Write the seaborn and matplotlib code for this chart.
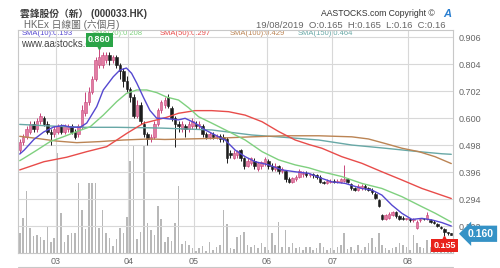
import numpy as np
import pandas as pd
import matplotlib
matplotlib.use("Agg")
import matplotlib.pyplot as plt
import matplotlib.transforms as mtransforms
from matplotlib.lines import Line2D
import seaborn as sns

# ---------------- data ----------------
start_date = "2019-02-14"
end_date = "2019-08-19"
hk_holidays = ["2019-04-05", "2019-04-19", "2019-04-22", "2019-05-01",
               "2019-05-13", "2019-06-07", "2019-07-01"]

open_ = [.48, .51, .53, .55, .58, .56, .59, .60, .58, .55,
         .54, .55, .57, .55, .56, .57, .55, .54, .57, .62,
         .66, .70, .75, .80, .80, .82, .84, .82, .83, .80,
         .78, .74, .71, .68, .61, .65, .58, .54, .52, .53,
         .58, .63, .65, .68, .64, .60, .58, .56, .57, .56,
         .57, .58, .57, .57, .54, .53, .54, .53, .535, .53,
         .52, .47, .45, .46, .48, .45, .42, .43, .44, .41,
         .42, .43, .44, .42, .41, .42, .40, .40, .37, .36,
         .37, .38, .39, .395, .385, .39, .385, .38, .36, .355,
         .36, .365, .36, .36, .365, .37, .35, .335, .33, .335,
         .345, .335, .33, .315, .29, .235, .22, .225, .235, .245,
         .23, .225, .22, .22, .215, .185, .215, .22, .22, .215,
         .21, .20, .19, .18, .17, .165]
close = [.51, .53, .56, .58, .56, .59, .61, .58, .55, .54,
         .56, .57, .55, .57, .57, .55, .53, .57, .63, .66,
         .70, .75, .82, .83, .84, .84, .82, .83, .80, .78,
         .74, .71, .68, .61, .65, .59, .54, .52, .53, .58,
         .63, .66, .67, .645, .60, .58, .57, .58, .56, .58,
         .59, .57, .58, .54, .53, .54, .53, .535, .52, .52,
         .45, .46, .47, .475, .45, .42, .44, .45, .42, .43,
         .435, .445, .42, .41, .42, .40, .41, .37, .36, .375,
         .38, .40, .395, .385, .39, .385, .38, .36, .355, .365,
         .365, .36, .365, .37, .37, .36, .335, .33, .345, .345,
         .335, .33, .32, .30, .27, .22, .235, .24, .245, .23,
         .22, .22, .22, .215, .22, .21, .22, .218, .235, .21,
         .205, .195, .185, .17, .165, .16]
high = [.52, .54, .57, .59, .59, .60, .62, .61, .59, .56,
        .57, .58, .58, .58, .58, .58, .56, .58, .65, .70,
        .72, .76, .83, .86, .85, .85, .85, .84, .84, .81,
        .79, .76, .72, .69, .67, .66, .59, .55, .54, .59,
        .64, .67, .68, .69, .645, .61, .59, .59, .58, .59,
        .60, .59, .59, .58, .55, .55, .55, .54, .54, .54,
        .53, .48, .48, .48, .485, .455, .45, .455, .45, .435,
        .44, .455, .445, .43, .43, .425, .415, .405, .38, .38,
        .385, .41, .40, .40, .395, .395, .39, .385, .365, .37,
        .37, .37, .37, .375, .425, .375, .355, .34, .35, .35,
        .35, .34, .335, .32, .295, .24, .24, .245, .25, .25,
        .235, .23, .225, .225, .225, .215, .225, .225, .245, .22,
        .215, .205, .195, .185, .17, .165]
low = [.47, .50, .52, .54, .55, .55, .58, .57, .54, .50,
       .53, .54, .54, .54, .55, .54, .52, .53, .56, .61,
       .65, .69, .74, .79, .79, .81, .80, .81, .79, .75,
       .72, .70, .66, .60, .60, .58, .53, .50, .51, .52,
       .57, .62, .64, .64, .59, .49, .55, .55, .53, .55,
       .56, .56, .56, .53, .52, .52, .52, .52, .51, .51,
       .43, .45, .445, .45, .44, .41, .415, .425, .41, .40,
       .41, .42, .41, .40, .40, .39, .395, .36, .355, .355,
       .365, .375, .38, .38, .38, .375, .37, .355, .35, .35,
       .355, .355, .355, .355, .36, .355, .33, .325, .325, .33,
       .33, .325, .315, .295, .265, .215, .215, .22, .23, .225,
       .215, .215, .215, .21, .21, .18, .21, .215, .215, .205,
       .20, .19, .18, .155, .16, .16]
volume_m = [7.4, 13, 23, 9.3, 6.4, 6.8, 6, 5, 10, 4.3,
            5.5, 37, 15, 4.3, 6.8, 7.7, 7.4, 26, 16, 9,
            26, 26, 26, 9.5, 16, 7.4, 5.8, 2.7, 5.2, 9.3,
            7.4, 13.6, 34, 40, 5.2, 8, 40, 11.4, 8.6, 6.8,
            17.5, 12.6, 4.3, 6.2, 4.7, 11.4, 25, 3.3, 4.7, 3.1,
            1.9, 1, 1.9, 2.7, 0.9, 4, 1.2, 2.5, 3, 16,
            11, 2, 1.6, 6, 6.8, 8, 3,
            2.5, 3.1, 1.9, 3.7, 2.5, 1.2, 7.4, 3.1, 11.7, 2.5,
            8.6, 2.5, 3.7, 1.9, 2.5, 1.2, 2.5, 2.5, 1.2, 1.9,
            3.7, 2.5, 1.2, 1.9, 1.2, 2.5, 3.1, 7.4, 1.5, 2.5,
            1.2, 3.1, 1.2, 2.5, 3.7, 5.5, 2.5, 7.4, 3.1, 1.9,
            1.2, 1.9, 2.5, 3.7, 3.1, 2.5, 1.2, 6.8, 3.7, 2.5,
            1.9, 5.0, 2.5, 1.9, 3.1, 1.9, 2.5, 1.5, 1.2]

sma10_day = [0, 1.3, 4.1, 6.9, 9.8, 12.6, 14.6, 17.5, 19.4, 22.3, 24.2, 27.1, 29, 30.9,
             32.4, 33.9, 35.8, 37.7, 39.7, 41.6, 46, 47.9, 50.8, 53.7, 56.6, 59.5, 62.4,
             65.3, 68.2, 72.1, 76, 79.8, 83.7, 87.5, 90.4, 94.3, 99.1, 102, 104.9, 107.8,
             110.7, 113.6, 116.5, 119.4, 122.3, 125]
sma10_val = [.465, .48, .52, .548, .567, .573, .567, .566, .582, .644, .707, .757, .782, .79,
             .77, .733, .68, .63, .60, .60, .594, .60, .582, .556, .537, .518, .48,
             .455, .436, .424, .405, .398, .392, .373, .36, .354, .335, .329, .31, .272,
             .241, .218, .222, .216, .206, .193]
sma20_day = [0, 1.3, 5, 8.8, 12.6, 16.5, 20.4, 24.2, 28.1, 30.9, 33.9, 36.8, 39.7, 42.6,
             46, 48.9, 51.8, 55.6, 60.5, 65.3, 70.2, 75, 79.8, 83.7, 87.5, 93.3, 99.1,
             104.9, 110.7, 116.5, 120.4, 125]
sma20_val = [.44, .45, .48, .512, .53, .55, .568, .612, .663, .694, .707, .707, .697, .68,
             .669, .64, .606, .582, .55, .518, .474, .443, .424, .413, .398, .38, .354,
             .335, .304, .266, .241, .208]
sma50_day = [0, 7, 13.6, 19.4, 25.2, 31, 35.8, 39.7, 42.6, 46, 50.8, 55.6, 60.5, 65.3,
             70.2, 75, 79.8, 84, 87.5, 93.3, 99.1, 104.9, 110.7, 116.5, 125]
sma50_val = [.405, .436, .453, .474, .493, .543, .581, .594, .604, .619, .629, .629, .625,
             .612, .587, .55, .518, .50, .487, .455, .43, .398, .367, .335, .297]
sma100_day = [0, 5, 10.7, 16.5, 23.2, 30, 37.7, 42, 55.6, 67.2, 76.8, 86.6, 96.2, 101,
              105.8, 110.7, 115.6, 120.3, 125]
sma100_val = [.532, .524, .514, .508, .512, .518, .522, .52, .524, .53, .534, .534, .53,
              .522, .505, .487, .474, .455, .429]
sma150_day = [0, 8.8, 18.4, 28.1, 37.7, 41.2, 55.6, 67.2, 76.8, 86.6, 96.2, 105.8, 115.6,
              122.3, 125]
sma150_val = [.577, .571, .566, .566, .564, .563, .556, .537, .528, .518, .499, .487, .474,
              .466, .464]

sma_labels = ["SMA(10):0.193", "SMA(20):0.208", "SMA(50):0.297", "SMA(100):0.429",
              "SMA(150):0.464"]
sma_colors = ["#5548d0", "#7fd07f", "#e84c4a", "#bb8454", "#68a8a6"]
price_ticks = [0.192, 0.294, 0.396, 0.498, 0.600, 0.702, 0.804, 0.906]

title_text = "雲鋒股份（新） (000033.HK)"
subtitle_text = "HKEx 日線圖 (六個月)"
copyright_text = "AASTOCKS.com Copyright ©"
ohlc_text = "19/08/2019  O:0.165  H:0.165  L:0.16  C:0.16"
site_text = "www.aastocks.com"

# ---------------- style ----------------
sns.set_style("white")
plt.rcParams['font.family'] = ['Liberation Sans', 'Noto Sans CJK TC', 'DejaVu Sans']

W, H = 500, 268
def fx(px):
    return px / W
def fy(py):
    return 1 - py / H

dates = pd.bdate_range(start_date, end_date)
dates = dates[~dates.isin(pd.to_datetime(hk_holidays))]
n = len(close)
dates = dates[:n]
months = dates.month
month_first = [i for i in range(1, n) if months[i] != months[i - 1]]

o = np.array(open_); c = np.array(close); h = np.array(high); l = np.array(low)
x = np.arange(n)

fig = plt.figure(figsize=(W / 100, H / 100), dpi=100)
rect = [fx(18), fy(253.3), fx(453) - fx(18), fy(30) - fy(253.3)]
ax_vol = fig.add_axes(rect)
ax_vol.patch.set_alpha(0)
ax = fig.add_axes(rect, sharex=ax_vol)
ax.patch.set_alpha(0)

# volume
ax_vol.bar(x, volume_m, width=0.45, color="#b8b8b8", linewidth=0)
ax_vol.set_ylim(0, 82.7)
ax_vol.axis("off")

# grid
ax.set_yticks(price_ticks)
ax.set_yticklabels([f"{t:.3f}" for t in price_ticks])
ax.yaxis.tick_right()
ax.set_xticks([m - 0.5 for m in month_first])
ax.set_xticklabels([dates[m].strftime("%m") for m in month_first])
ax.grid(True, color="#d8d8d8", linewidth=0.8)
ax.set_axisbelow(True)
ax.tick_params(axis="both", length=0, labelsize=6.5, labelcolor="#666666")
ax.tick_params(axis="x", pad=3)
ax.tick_params(axis="y", pad=4)
for sp in ax.spines.values():
    sp.set_color("#c8c8c8"); sp.set_linewidth(0.8)

# SMA lines
for days, vals, col in [(sma150_day, sma150_val, sma_colors[4]),
                        (sma100_day, sma100_val, sma_colors[3]),
                        (sma50_day, sma50_val, sma_colors[2]),
                        (sma20_day, sma20_val, sma_colors[1]),
                        (sma10_day, sma10_val, sma_colors[0])]:
    sns.lineplot(x=days, y=vals, ax=ax, color=col, linewidth=1.0, zorder=5)

# candles
up = c >= o
face = np.where(up, "#e27ca3", "#1c1c1c")
edge = np.where(up, "#c8467a", "#1c1c1c")
ax.vlines(x, l, h, colors=edge, linewidth=0.7, zorder=3)
ax.bar(x, np.maximum(np.abs(c - o), 0.003), bottom=np.minimum(o, c), width=0.7,
       color=face, edgecolor=edge, linewidth=0.4, zorder=4)

ax.set_xlim(-0.5, n - 0.5)
ax.set_ylim(0.090, 0.9336)
ax.set_xlabel(""); ax.set_ylabel("")

# high / low / last markers
pk = int(np.argmax(h)); tr = int(np.argmin(l))
green = "#2aa447"
ax.annotate(f"{h[pk]:.3f}", xy=(pk, h[pk]), xytext=(0, 9.5), textcoords="offset pixels",
            ha="center", va="center", fontsize=6.5, fontweight="bold", color="white",
            bbox=dict(boxstyle="square,pad=0.25", fc=green, ec="none"), zorder=10)
ax.plot([pk], [h[pk]], marker="v", ms=4, color=green, zorder=10,
        transform=mtransforms.offset_copy(ax.transData, fig=fig, x=0, y=3, units="dots"))
red = "#e8221c"
ax.annotate(f"{l[tr]:.3f}", xy=(tr, l[tr]), xytext=(0, -9.5), textcoords="offset pixels",
            ha="center", va="center", fontsize=6.5, fontweight="bold", color="white",
            bbox=dict(boxstyle="square,pad=0.25", fc=red, ec="none"), zorder=10,
            annotation_clip=False)
ax.plot([tr], [l[tr]], marker="^", ms=4, color=red, zorder=10, clip_on=False,
        transform=mtransforms.offset_copy(ax.transData, fig=fig, x=0, y=-3, units="dots"))
ax.annotate(f"{c[-1]:.3f}", xy=(1, c[-1]), xycoords=("axes fraction", "data"),
            xytext=(28, 1), textcoords="offset pixels", ha="center", va="center",
            fontsize=7.5, fontweight="bold", color="white",
            bbox=dict(boxstyle="larrow,pad=0.3", fc="#3592c6", ec="none"),
            zorder=10, annotation_clip=False)

# texts
fig.text(fx(20), fy(14), title_text, fontsize=7, fontweight="bold", color="#3a3a3a",
         va="center", ha="left")
fig.text(fx(24), fy(25), subtitle_text, fontsize=7, color="#666666", va="center", ha="left")
fig.text(fx(435), fy(14), copyright_text, fontsize=6.2, color="#333333", va="center", ha="right")
fig.text(fx(443), fy(14), "A", fontsize=8, fontweight="bold", style="italic",
         color="#2a7fd0", va="center", ha="left")
fig.text(fx(445), fy(25), ohlc_text, fontsize=6.8, color="#666666", va="center", ha="right")
for px, lab, col in zip([22, 92, 160, 230, 298], sma_labels, sma_colors):
    fig.text(fx(px), fy(33.5), lab, fontsize=5.5, color=col, va="center", ha="left",
             zorder=-1)
fig.text(fx(21), fy(44), site_text, fontsize=7, color="#444444", va="center", ha="left",
         zorder=-1)
fig.add_artist(Line2D([fx(18), fx(453)], [fy(266.5), fy(266.5)], color="#c8c8c8", lw=0.8))

fig.savefig("out.png", dpi=100, facecolor="white")
